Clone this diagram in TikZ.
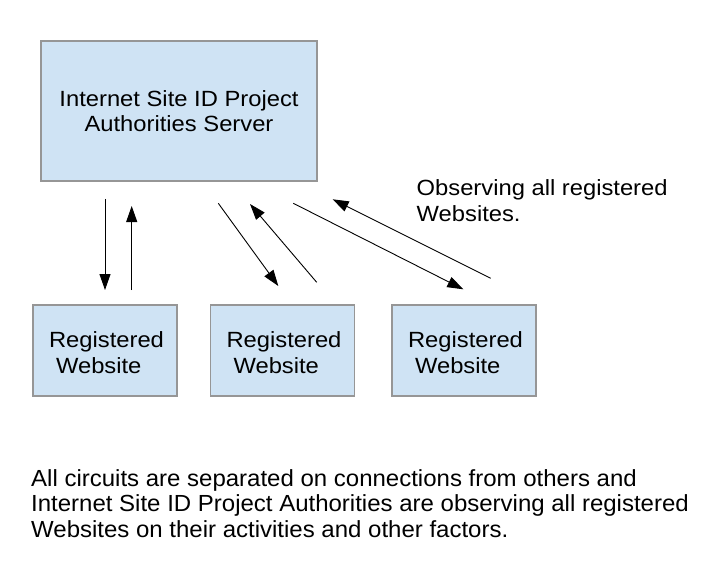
\documentclass[tikz,border=0pt]{standalone}
\usepackage{fontspec}
\setmainfont{Liberation Sans}
\newfontfamily\boxfont[FakeStretch=1.08]{Liberation Sans}
\newfontfamily\notefont[FakeStretch=1.03]{Liberation Sans}
\usetikzlibrary{arrows.meta}
\definecolor{boxfill}{RGB}{207,227,244}
\definecolor{boxline}{RGB}{150,150,150}
\newcommand{\sitetext}{\raisebox{0pt}[\dimexpr\height+9pt\relax][\depth]{\hspace*{3pt}\begin{tabular}{@{}l@{}}Registered\\\hspace*{7pt}Website\end{tabular}}}
\tikzset{
  srvbox/.style={draw=boxline, fill=boxfill, line width=1.2pt, inner sep=0pt,
    minimum width=276pt, minimum height=140pt, align=center,
    font=\boxfont\fontsize{22}{25.5}\selectfont},
  sitebox/.style={draw=boxline, fill=boxfill, line width=1.2pt, inner sep=0pt,
    minimum width=144pt, minimum height=91pt,
    font=\boxfont\fontsize{22}{26}\selectfont},
  lbl/.style={inner sep=0pt, align=left, font=\boxfont\fontsize{22}{26.7}\selectfont},
  note/.style={inner sep=0pt, align=left, font=\notefont\fontsize{23.3}{25.5}\selectfont},
  arr/.style={-{Triangle[length=16pt,width=11pt]}, line width=0.9pt}
}
\begin{document}
\begin{tikzpicture}[x=1pt,y=-1pt]
\useasboundingbox[fill=white] (0,0) rectangle (718,575);

\node[srvbox] (srv) at (179,111) {Internet Site ID Project\\Authorities Server};
\node[sitebox] (w1) at (105,350.5) {\sitetext};
\node[sitebox] (w2) at (282.5,350.5) {\sitetext};
\node[sitebox] (w3) at (464,350.5) {\sitetext};

% base anchor of a multi-line node is the baseline of its last line
\node[lbl, anchor=base west] (obs) at (416.5,221.7) {Observing all registered\\Websites.};

\node[note, anchor=base west] (foot) at (31,537) {All circuits are separated on connections from others and\\Internet Site ID Project Authorities are observing all registered\\Websites on their activities and other factors.};

% connector end points
\coordinate (a1s) at (105,199);
\coordinate (a1e) at (105,290);
\coordinate (a2s) at (131.7,290);
\coordinate (a2e) at (131.7,206);
\coordinate (a3s) at (218.3,203.3);
\coordinate (a3e) at (278.3,286);
\coordinate (a4s) at (316.7,282.3);
\coordinate (a4e) at (250,204);
\coordinate (a5s) at (293.3,203.3);
\coordinate (a5e) at (463.3,289.3);
\coordinate (a6s) at (490.7,278.3);
\coordinate (a6e) at (332.7,199.3);

\draw[arr] (a1s) -- (a1e);
\draw[arr] (a2s) -- (a2e);
\draw[arr] (a3s) -- (a3e);
\draw[arr] (a4s) -- (a4e);
\draw[arr] (a5s) -- (a5e);
\draw[arr] (a6s) -- (a6e);
\end{tikzpicture}
\end{document}
